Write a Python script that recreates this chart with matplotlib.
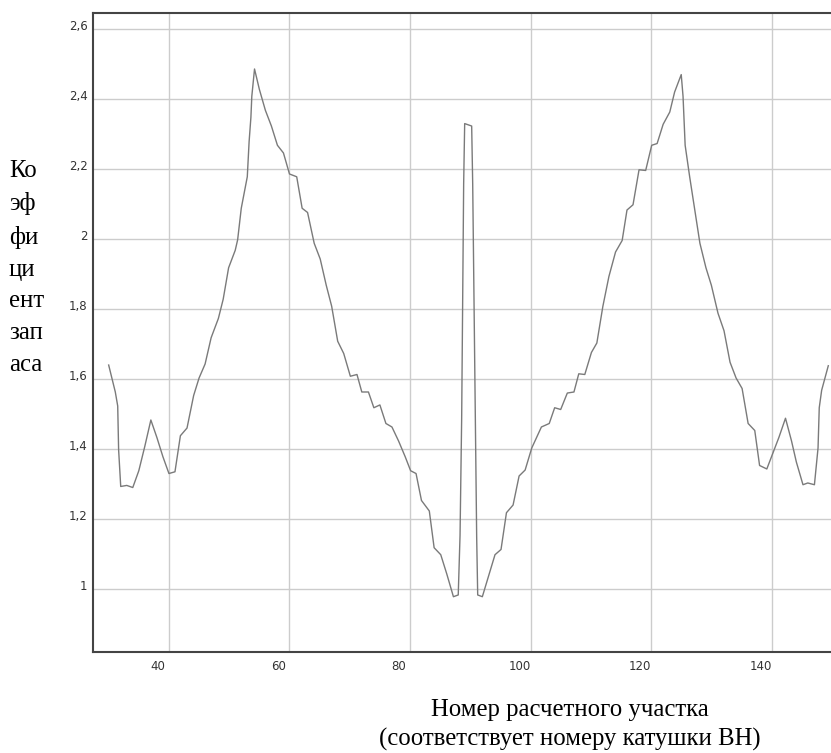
import numpy as np
import matplotlib
matplotlib.use("Agg")
import matplotlib.pyplot as plt
from matplotlib.ticker import FuncFormatter
from matplotlib.transforms import ScaledTranslation

# номер участка и коэффициент запаса
x_pos = [30.0, 31.1, 31.5, 31.65, 32.0, 33.0, 34.0, 35.0, 36.0, 37.0,
         38.0, 39.0, 40.0, 41.0, 41.9, 43.0, 44.1, 45.0, 46.0, 47.0,
         48.2, 49.0, 49.9, 51.0, 51.4, 52.0, 53.0, 53.3, 53.6, 53.75,
         54.2, 55.0, 56.0, 57.0, 58.0, 59.0, 60.0, 61.2, 62.1, 63.0,
         64.1, 65.1, 66.1, 67.0, 68.0, 69.0, 70.1, 71.2, 72.0, 73.1,
         74.0, 75.0, 76.0, 77.0, 78.1, 79.2, 80.1, 81.0, 81.9, 83.2,
         84.0, 85.1, 86.1, 87.2, 88.0, 88.3, 88.57, 88.74, 88.9, 89.07,
         90.23, 90.4, 90.62, 90.84, 91.06, 91.23, 92.0, 92.7, 94.1, 95.1,
         96.0, 97.1, 98.1, 99.1, 100.2, 101.8, 103.1, 104.0, 105.0, 106.1,
         107.2, 108.0, 109.0, 110.1, 111.0, 112.0, 113.0, 114.1, 115.2, 116.0,
         117.0, 118.0, 119.1, 120.1, 121.0, 122.0, 123.1, 123.9, 125.0, 125.3,
         125.65, 126.4, 127.2, 128.1, 129.1, 130.0, 131.1, 132.1, 133.1, 134.1,
         135.1, 136.1, 137.2, 138.0, 139.2, 140.2, 141.2, 142.3, 143.3, 144.1,
         145.2, 146.0, 147.1, 147.7, 147.9, 148.3, 149.4]
k_zap = [1.640, 1.563, 1.523, 1.398, 1.293, 1.296, 1.290, 1.338, 1.408, 1.483,
         1.433, 1.378, 1.330, 1.335, 1.438, 1.460, 1.553, 1.603, 1.643, 1.718,
         1.773, 1.828, 1.918, 1.968, 1.998, 2.088, 2.178, 2.278, 2.348, 2.408,
         2.486, 2.428, 2.368, 2.323, 2.268, 2.246, 2.186, 2.178, 2.088, 2.076,
         1.988, 1.943, 1.868, 1.808, 1.708, 1.673, 1.608, 1.613, 1.563, 1.563,
         1.518, 1.526, 1.473, 1.463, 1.423, 1.378, 1.338, 1.330, 1.253, 1.223,
         1.118, 1.098, 1.043, 0.978, 0.983, 1.153, 1.488, 1.823, 2.158, 2.330,
         2.323, 2.158, 1.823, 1.488, 1.148, 0.983, 0.978, 1.018, 1.098, 1.113,
         1.218, 1.240, 1.323, 1.340, 1.403, 1.463, 1.473, 1.518, 1.513, 1.560,
         1.563, 1.615, 1.613, 1.676, 1.703, 1.808, 1.893, 1.963, 1.996, 2.083,
         2.098, 2.198, 2.196, 2.268, 2.273, 2.328, 2.363, 2.420, 2.470, 2.408,
         2.268, 2.178, 2.088, 1.988, 1.918, 1.868, 1.788, 1.738, 1.648, 1.603,
         1.573, 1.473, 1.453, 1.353, 1.343, 1.388, 1.433, 1.488, 1.423, 1.363,
         1.298, 1.303, 1.298, 1.403, 1.518, 1.568, 1.638]

x_ticks = [40, 60, 80, 100, 120, 140]
y_ticks = [1.0, 1.2, 1.4, 1.6, 1.8, 2.0, 2.2, 2.4, 2.6]

fig = plt.figure(figsize=(8.31, 7.53), dpi=100)
ax = fig.add_axes([93 / 831, 101 / 753, 738 / 831, 639 / 753])

ax.plot(x_pos, k_zap, color='#7a7a7a', lw=1.0)

ax.set_xlim(27.4, 149.85)
ax.set_ylim(0.82, 2.646)
ax.set_xticks(x_ticks)
ax.set_yticks(y_ticks)
ax.yaxis.set_major_formatter(FuncFormatter(lambda v, p: f"{v:g}".replace('.', ',')))
ax.grid(True, color='#cccccc', lw=1.0)
ax.set_axisbelow(True)

for s in ['left', 'bottom', 'top']:
    ax.spines[s].set_color('#444444')
    ax.spines[s].set_linewidth(1.5)
ax.spines['right'].set_visible(False)

ax.tick_params(length=0, labelsize=8.5, labelcolor='#333333')
ax.tick_params(axis='x', pad=6)
ax.tick_params(axis='y', pad=4)

# подписи в оригинале смещены относительно линий сетки
for lab in ax.get_xticklabels():
    lab.set_transform(lab.get_transform() + ScaledTranslation(-0.11, 0, fig.dpi_scale_trans))
for lab in ax.get_yticklabels():
    lab.set_transform(lab.get_transform() + ScaledTranslation(0, 0.04, fig.dpi_scale_trans))

fig.text(9 / 831, 1 - 268 / 753, "Ко\nэф\nфи\nци\nент\nзап\nаса",
         ha='left', va='center', family='Liberation Serif', fontsize=17.8,
         linespacing=1.58)
fig.text(570 / 831, 1 - 725 / 753,
         "Номер расчетного участка\n(соответствует номеру катушки ВН)",
         ha='center', va='center', family='Liberation Serif', fontsize=17.8,
         linespacing=1.34)

fig.savefig('out.png', dpi=100)
